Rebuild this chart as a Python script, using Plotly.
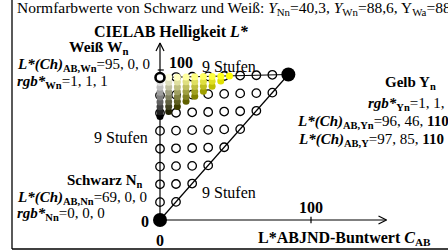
import plotly.graph_objects as go

# ---------------- data ----------------
# vertices of the colour triangle (L*ABJND chroma C_AB, lightness L*): N, W, Y
vert_C = [0, 0, 85]
vert_L = [0, 95, 97]
axis_C_max = 150
axis_L_max = 118
tick_C = 100
tick_L = 100

# 9-step lattice (open circles), row by row from black to the W-Y line
grid_C = [0,
          0, 10.6,
          0, 10.6, 21.3,
          0, 10.6, 21.3, 31.9,
          0, 10.6, 21.3, 31.9, 42.5,
          0, 10.6, 21.3, 31.9, 42.5, 53.1,
          0, 10.6, 21.3, 31.9, 42.5, 53.1, 63.8,
          0, 10.6, 21.3, 31.9, 42.5, 53.1, 63.8, 74.4,
          0, 10.6, 21.3, 31.9, 42.5, 53.1, 63.8, 74.4, 85.0]
grid_L = [0,
          11.9, 12.1,
          23.8, 24.0, 24.3,
          35.6, 35.9, 36.1, 36.4,
          47.5, 47.8, 48.0, 48.3, 48.5,
          59.4, 59.6, 59.9, 60.1, 60.4, 60.6,
          71.3, 71.5, 71.8, 72.0, 72.3, 72.5, 72.8,
          83.1, 83.4, 83.6, 83.9, 84.1, 84.4, 84.6, 84.9,
          95.0, 95.3, 95.5, 95.8, 96.0, 96.3, 96.5, 96.8, 97.0]

# measured colour samples (filled dots), same lattice order
dot_C = [0,
         0, 5.75,
         0, 5.75, 11.5,
         0, 5.75, 11.5, 17.25,
         0, 5.75, 11.5, 17.25, 23.0,
         0, 5.75, 11.5, 17.25, 23.0, 28.75,
         0, 5.75, 11.5, 17.25, 23.0, 28.75, 34.5,
         0, 5.75, 11.5, 17.25, 23.0, 28.75, 34.5, 40.25,
         0, 5.75, 11.5, 17.25, 23.0, 28.75, 34.5, 40.25, 46.0]
dot_L = [69.0,
         72.25, 72.4,
         75.5, 75.6, 75.75,
         78.75, 78.9, 79.0, 79.1,
         82.0, 82.1, 82.25, 82.4, 82.5,
         85.25, 85.4, 85.5, 85.6, 85.75, 85.9,
         88.5, 88.6, 88.75, 88.9, 89.0, 89.1, 89.25,
         91.75, 91.9, 92.0, 92.1, 92.25, 92.4, 92.5, 92.6,
         95.0, 95.1, 95.25, 95.4, 95.5, 95.6, 95.75, 95.9, 96.0]
# rgb* of each sample (r=g, b)
dot_rg = [0,
          .125, .125,
          .25, .25, .25,
          .375, .375, .375, .375,
          .5, .5, .5, .5, .5,
          .625, .625, .625, .625, .625, .625,
          .75, .75, .75, .75, .75, .75, .75,
          .875, .875, .875, .875, .875, .875, .875, .875,
          1, 1, 1, 1, 1, 1, 1, 1, 1]
dot_b = [0,
         .125, 0,
         .25, .125, 0,
         .375, .25, .125, 0,
         .5, .375, .25, .125, 0,
         .625, .5, .375, .25, .125, 0,
         .75, .625, .5, .375, .25, .125, 0,
         .875, .75, .625, .5, .375, .25, .125, 0,
         1, .875, .75, .625, .5, .375, .25, .125, 0]

# ---------------- figure ----------------
W, H = 448, 252
X0, Y0 = 160, 220
SX, SY = 1.51, 1.5
FONT = "Liberation Serif"

dot_colors = ["rgb(%d,%d,%d)" % (round(g * 255), round(g * 255), round(b * 255))
              for g, b in zip(dot_rg, dot_b)]

fig = go.Figure()
line = dict(color="black", width=1.2)
# axes
fig.add_trace(go.Scatter(x=[0, 0], y=[0, axis_L_max], mode="lines", line=line))
fig.add_trace(go.Scatter(x=[0, axis_C_max], y=[0, 0], mode="lines", line=line))
# triangle edges W-Y and N-Y
fig.add_trace(go.Scatter(x=[vert_C[1], vert_C[2]], y=[vert_L[1], vert_L[2]], mode="lines", line=line))
fig.add_trace(go.Scatter(x=[vert_C[0], vert_C[2]], y=[vert_L[0], vert_L[2]], mode="lines", line=line))
# ticks
fig.add_trace(go.Scatter(x=[tick_C, tick_C], y=[-2.2, 2.2], mode="lines", line=line))
fig.add_trace(go.Scatter(x=[-1.5, 2.5], y=[tick_L, tick_L], mode="lines", line=line))
# arrow heads
ah = 8
fig.add_trace(go.Scatter(x=[axis_C_max - ah / SX, axis_C_max, axis_C_max - ah / SX],
                         y=[4 / SY, 0, -4 / SY], mode="lines", line=line))
fig.add_trace(go.Scatter(x=[-4 / SX, 0, 4 / SX],
                         y=[axis_L_max - ah / SY, axis_L_max, axis_L_max - ah / SY],
                         mode="lines", line=line))
# open lattice
fig.add_trace(go.Scatter(x=grid_C, y=grid_L, mode="markers",
                         marker=dict(symbol="circle-open", size=8.5, color="black",
                                     line=dict(width=1.3, color="black"))))
# colour samples
fig.add_trace(go.Scatter(x=dot_C, y=dot_L, mode="markers",
                         marker=dict(size=7, color=dot_colors, line=dict(width=0))))
# vertices
fig.add_trace(go.Scatter(x=[vert_C[0], vert_C[2]], y=[vert_L[0], vert_L[2]], mode="markers",
                         marker=dict(size=14, color="black", line=dict(width=0))))
fig.add_trace(go.Scatter(x=[vert_C[1]], y=[vert_L[1]], mode="markers",
                         marker=dict(size=9, color="white", line=dict(width=2.6, color="black"))))


def ann(text, x, y, xanchor="left", size=15):
    return dict(text=text, x=x / W, y=1 - y / H, xref="paper", yref="paper",
                xanchor=xanchor, yanchor="middle", showarrow=False,
                font=dict(family=FONT, size=size, color="black"))


LCH = "<b><i>L*(Ch)</i><sub>AB,%s</sub></b>=%s"
RGB = "<b><i>rgb*</i><sub>%s</sub></b>=%s"
annotations = [
    ann("Normfarbwerte von Schwarz und Weiß: <i>Y</i><sub>Nn</sub>=40,3, "
        "<i>Y</i><sub>Wn</sub>=88,6, Y<sub>Wa</sub>=88,6", 15, 9, size=15.5),
    ann("<b>CIELAB Helligkeit <i>L*</i></b>", 92, 32, size=16),
    ann("<b>Weiß W<sub>n</sub></b>", 67, 47, size=15.5),
    ann(LCH % ("Wn", "95, 0, 0"), 15, 65),
    ann(RGB % ("Wn", "1, 1, 1"), 15, 82),
    ann("<b>100</b>", 167, 62, size=16),
    ann("9 Stufen", 200, 67, size=16),
    ann("9 Stufen", 92, 137, size=16),
    ann("9 Stufen", 200, 192, size=16),
    ann("<b>Gelb Y<sub>n</sub></b>", 383, 83),
    ann(RGB % ("Yn", "1, 1, 0"), 366, 104),
    ann(LCH % ("Yn", "96, 46, <b>110</b>"), 295, 122),
    ann(LCH % ("Y", "97, 85, <b>110</b>"), 296, 140),
    ann("<b>Schwarz N<sub>n</sub></b>", 65, 181),
    ann(LCH % ("Nn", "69, 0, 0"), 15, 198),
    ann(RGB % ("Nn", "0, 0, 0"), 15, 214),
    ann("<b>0</b>", 145, 221, "center", size=16),
    ann("<b>0</b>", 160, 240, "center", size=16),
    ann("<b>100</b>", 311, 207, "center", size=16),
    ann("<b>L*ABJND-Buntwert <i>C</i><sub>AB</sub></b>", 256, 238, size=16),
]

shapes = [
    dict(type="line", xref="paper", yref="paper", x0=12 / W, x1=12 / W, y0=0 + 3 / H, y1=1,
         line=dict(color="black", width=1.3)),
    dict(type="line", xref="paper", yref="paper", x0=12 / W, x1=1, y0=3 / H, y1=3 / H,
         line=dict(color="black", width=1.3)),
]

fig.update_layout(
    width=W, height=H, margin=dict(l=0, r=0, t=0, b=0),
    paper_bgcolor="white", plot_bgcolor="white", showlegend=False,
    xaxis=dict(range=[-X0 / SX, (W - X0) / SX], visible=False, fixedrange=True),
    yaxis=dict(range=[-(H - Y0) / SY, Y0 / SY], visible=False, fixedrange=True),
    annotations=annotations, shapes=shapes,
)
fig.write_html("out.html", config={"displayModeBar": False},
               post_script="document.body.style.margin='0';document.body.style.overflow='hidden';")
